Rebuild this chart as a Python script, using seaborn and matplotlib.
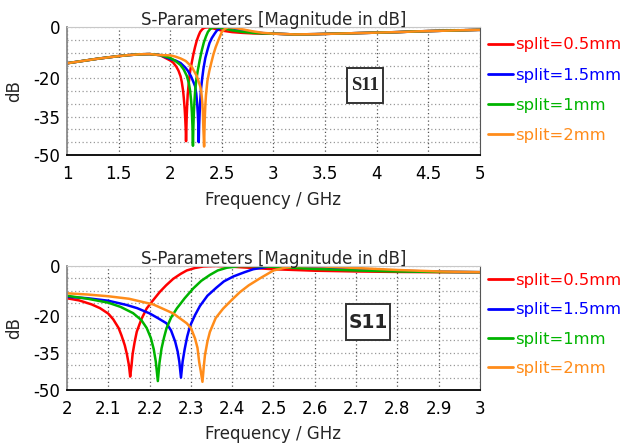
import matplotlib
matplotlib.use("Agg")
import matplotlib.pyplot as plt
import matplotlib.ticker as mticker
from matplotlib.patches import Rectangle
import seaborn as sns
import pandas as pd

sns.set_style("white")
plt.rcParams['font.family'] = ['DejaVu Sans']
plt.rcParams['axes.unicode_minus'] = False

labels = ['split=0.5mm', 'split=1.5mm', 'split=1mm', 'split=2mm']
colors = ['#ff0000', '#0000ff', '#00b400', '#ff8c1a']

# zoomed sweep 2-3 GHz
f_05 = [2.00, 2.03, 2.06, 2.08, 2.10, 2.112, 2.125, 2.132, 2.14, 2.145, 2.150, 2.153, 2.156,
        2.159, 2.164, 2.169, 2.18, 2.193, 2.21, 2.225, 2.24, 2.257, 2.275, 2.29, 2.31, 2.33,
        2.36, 2.40, 2.45, 2.50, 2.60, 2.70, 2.80, 2.90, 3.00]
s_05 = [-13.0, -13.9, -15.5, -17.0, -19.2, -21.5, -25.0, -28.0, -32.0, -35.5, -40.0, -44.6, -40.5,
        -35.4, -30.5, -26.5, -21.5, -17.1, -13.5, -10.4, -7.8, -5.2, -3.2, -1.8, -0.8, -0.2,
        0.0, -0.3, -0.8, -1.3, -1.9, -2.2, -2.4, -2.5, -2.5]

f_15 = [2.00, 2.05, 2.10, 2.144, 2.17, 2.20, 2.22, 2.241, 2.252, 2.262, 2.268, 2.272, 2.276,
        2.280, 2.285, 2.291, 2.298, 2.31, 2.322, 2.34, 2.362, 2.38, 2.403, 2.43, 2.451, 2.49,
        2.55, 2.60, 2.70, 2.80, 2.90, 3.00]
s_15 = [-12.4, -13.0, -14.0, -15.7, -17.0, -19.1, -21.0, -23.1, -26.0, -30.5, -34.5, -38.6, -45.0,
        -38.5, -33.5, -28.5, -24.2, -19.8, -16.1, -12.0, -8.7, -6.2, -4.2, -2.5, -1.3, -0.2,
        0.0, -0.4, -1.2, -1.9, -2.3, -2.5]

f_1 = [2.00, 2.05, 2.10, 2.13, 2.16, 2.18, 2.193, 2.203, 2.210, 2.215, 2.220, 2.224, 2.229,
       2.235, 2.241, 2.252, 2.266, 2.285, 2.306, 2.325, 2.346, 2.365, 2.387, 2.42, 2.47, 2.52,
       2.60, 2.70, 2.80, 2.90, 3.00]
s_1 = [-12.0, -13.2, -14.8, -16.5, -19.0, -21.8, -25.0, -29.0, -33.5, -38.5, -46.4, -39.0, -33.2,
       -28.8, -25.1, -20.8, -17.1, -13.0, -9.0, -6.0, -3.6, -1.8, -0.7, 0.0, -0.1, -0.5,
       -1.2, -1.8, -2.2, -2.4, -2.5]

f_2 = [2.00, 2.05, 2.10, 2.15, 2.209, 2.257, 2.29, 2.30, 2.31, 2.316, 2.32, 2.324, 2.328,
       2.331, 2.334, 2.340, 2.346, 2.36, 2.378, 2.40, 2.419, 2.44, 2.467, 2.50, 2.53, 2.56,
       2.62, 2.70, 2.80, 2.90, 3.00]
s_2 = [-11.0, -11.5, -12.2, -13.2, -15.5, -19.1, -23.1, -25.0, -29.2, -33.0, -38.6, -42.5, -46.7,
       -41.0, -36.0, -30.5, -26.6, -21.0, -17.2, -13.5, -10.5, -7.8, -5.0, -1.8, -0.6, 0.0,
       -0.2, -0.8, -1.6, -2.2, -2.5]

# wide sweep: the four curves overlap below 2 GHz and above 3 GHz
f_low = [1.0, 1.1, 1.2, 1.3, 1.4, 1.5, 1.6, 1.7, 1.8, 1.9]
s_low = [-14.1, -13.5, -12.9, -12.3, -11.8, -11.3, -10.9, -10.6, -10.5, -10.9]
f_high = [3.2, 3.4, 3.6, 3.8, 4.0, 4.2, 4.4, 4.6, 4.8, 5.0]
s_high = [-2.8, -2.7, -2.5, -2.3, -2.1, -1.9, -1.6, -1.4, -1.2, -1.0]

freqs = [f_05, f_15, f_1, f_2]
vals = [s_05, s_15, s_1, s_2]

top_xticks = [1, 1.5, 2, 2.5, 3, 3.5, 4, 4.5, 5]
bot_xticks = [2, 2.1, 2.2, 2.3, 2.4, 2.5, 2.6, 2.7, 2.8, 2.9, 3]
yticks = [0, -20, -35, -50]


def make_df(wide):
    rows = []
    for lab, f, s in zip(labels, freqs, vals):
        if wide:
            f = f_low + f + f_high
            s = s_low + s + s_high
        for x, y in zip(f, s):
            rows.append({'freq': x, 'db': y, 'split': lab})
    return pd.DataFrame(rows)


fig = plt.figure(figsize=(6.23, 4.44), dpi=100)
ax1 = fig.add_axes([0.1075, 0.651, 0.663, 0.2876])
ax2 = fig.add_axes([0.1075, 0.1216, 0.663, 0.2793])

# (axes, data, xlim, xticks, S11 box [x, y, w, h], font, size, legend top, label spacing)
panels = [
    (ax1, make_df(True), (1, 5), top_xticks, (0.678, 0.405, 0.087, 0.275),
     'Liberation Serif', 13.5, 0.916, 0.93),
    (ax2, make_df(False), (2, 3), bot_xticks, (0.6755, 0.403, 0.1065, 0.29),
     'DejaVu Sans', 13.5, 0.385, 0.87),
]

for ax, df, xlim, xt, box, boxfont, boxsize, legy, lspace in panels:
    sns.lineplot(data=df, x='freq', y='db', hue='split', hue_order=labels,
                 palette=colors, estimator=None, linewidth=1.8, ax=ax)
    ax.set_xlim(*xlim)
    ax.set_ylim(-50, 0)
    ax.set_xticks(xt)
    ax.xaxis.set_major_formatter(mticker.FuncFormatter(lambda v, p: f'{v:g}'))
    ax.set_yticks(yticks)
    ax.yaxis.set_minor_locator(mticker.MultipleLocator(5))
    ax.grid(True, axis='x', which='major', linestyle=(0, (1, 2)), color='#555555', linewidth=0.9)
    ax.grid(True, axis='y', which='both', linestyle=(0, (1, 2)), color='#999999', linewidth=0.9)
    ax.tick_params(axis='both', which='major', labelsize=12, direction='out', length=3,
                   width=1, pad=2, colors='#000000')
    ax.tick_params(axis='y', which='major', color='#888888')
    ax.tick_params(axis='y', which='minor', length=0)
    ax.tick_params(axis='x', pad=4)
    ax.spines['bottom'].set_color('#000000')
    ax.spines['bottom'].set_linewidth(1.3)
    ax.spines['left'].set_color('#8a8a8a')
    ax.spines['left'].set_linewidth(1.3)
    ax.spines['top'].set_color('#c8c8c8')
    ax.spines['right'].set_color('#555555')
    ax.set_title('S-Parameters [Magnitude in dB]', fontsize=12, pad=1.5)
    ax.set_xlabel('Frequency / GHz', fontsize=12)
    ax.set_ylabel('dB', fontsize=12)
    ax.xaxis.set_label_coords(0.5, -0.28)
    ax.yaxis.set_label_coords(-0.105, 0.5)

    bx, by, bw, bh = box
    ax.add_patch(Rectangle((bx, by), bw, bh, transform=ax.transAxes, facecolor='white',
                           edgecolor='#333333', linewidth=1.4, zorder=5))
    ax.text(bx + bw / 2, by + bh / 2, 'S11', transform=ax.transAxes, ha='center',
            va='center', fontsize=boxsize, fontweight='bold', family=boxfont, zorder=6)

    handles, labs = ax.get_legend_handles_labels()
    leg = ax.legend(handles, labs, loc='upper left', bbox_to_anchor=(0.7833, legy),
                    bbox_transform=fig.transFigure, frameon=False, fontsize=11.8,
                    handlelength=1.5, handletextpad=0.15, labelspacing=lspace,
                    borderpad=0, borderaxespad=0)
    for line in leg.get_lines():
        line.set_linewidth(2)
    for t, c in zip(leg.get_texts(), colors):
        t.set_color(c)

fig.savefig('out.png', dpi=100)
